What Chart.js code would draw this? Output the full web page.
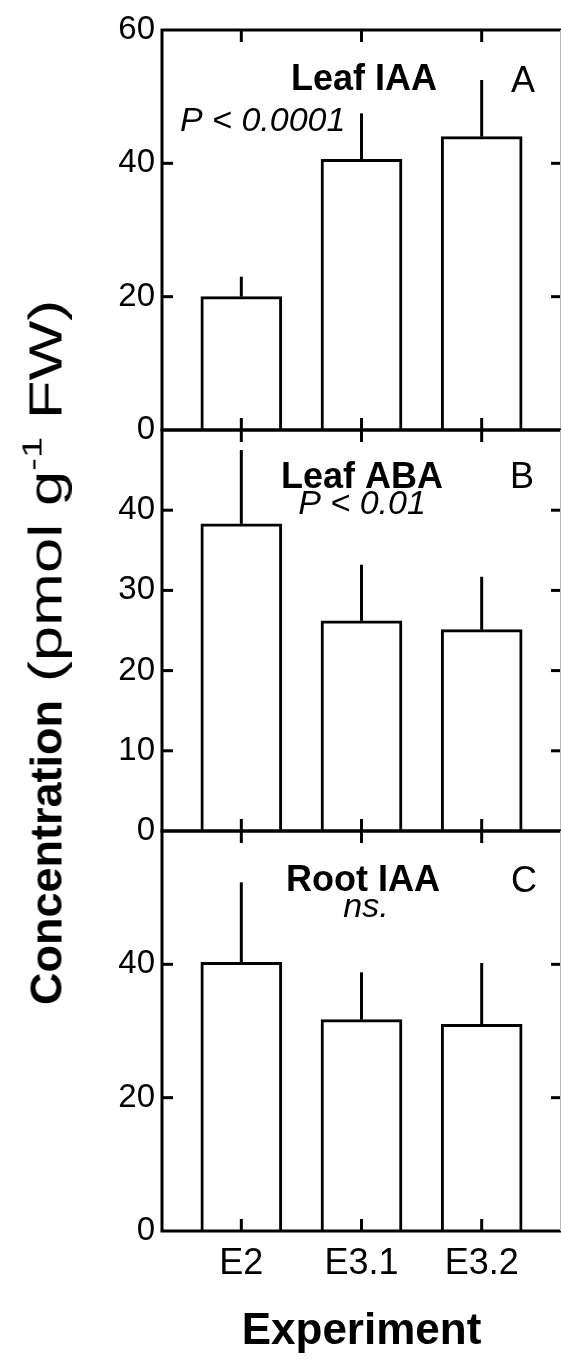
<!DOCTYPE html>
<html><head><meta charset="utf-8">
<script src="https://cdn.jsdelivr.net/npm/chart.js@4.4.1/dist/chart.umd.min.js"></script>
<style>
html,body{margin:0;padding:0;background:#fff;}
#wrap{position:relative;width:561px;height:1363px;overflow:hidden;background:#fff;}
canvas{position:absolute;left:0;}
#ytitle{position:absolute;left:45px;top:1005px;transform-origin:0 50%;transform:translateY(-50%) rotate(-90deg);white-space:nowrap;font-family:'Liberation Sans',Arial,sans-serif;font-size:45px;color:#000;line-height:1;}
#ytitle .reg{display:inline-block;font-size:47px;transform:scaleX(1.35);transform-origin:0 50%;}
#ytitle sup{font-size:60%;vertical-align:0.7em;line-height:0;}
</style></head><body>
<div id="wrap">
<canvas id="cA" width="561" height="460" style="top:0px"></canvas>
<canvas id="cB" width="561" height="460" style="top:400px"></canvas>
<canvas id="cC" width="561" height="562" style="top:801px"></canvas>
<div id="ytitle"><b>Concentration</b><span class="reg">&nbsp;(pmol g<sup>-1</sup> FW)</span></div>
</div>
<script>
// ---- data ----
const categories = ['E2', 'E3.1', 'E3.2'];
const leafIAA    = [20.0, 40.6, 44.0];
const leafIAAErr = [3.0, 6.9, 8.5];
const leafABA    = [38.3, 26.2, 25.1];
const leafABAErr = [9.2, 7.0, 6.6];
const rootIAA    = [40.3, 31.7, 31.0];
const rootIAAErr = [12.0, 7.1, 9.2];
const yTicksA = [0, 20, 40, 60];
const yTicksB = [0, 10, 20, 30, 40];
const yTicksC = [0, 20, 40];
const yMaxA = 60, yMaxB = 50, yMaxC = 60;

const FONT = "'Liberation Sans', Arial, Helvetica, sans-serif";

const panelDecor = {
  id: 'panelDecor',
  afterDatasetsDraw(chart, args, opts) {
    const ctx = chart.ctx;
    const {left, right, top, bottom} = chart.chartArea;
    const xs = chart.scales.x, ys = chart.scales.y;
    const ds = chart.data.datasets[0];
    const meta = chart.getDatasetMeta(0);
    ctx.save();
    ctx.strokeStyle = '#000';
    ctx.lineWidth = 3;
    ctx.lineCap = 'butt';
    // error bars (upper only)
    meta.data.forEach((bar, i) => {
      const y1 = ys.getPixelForValue(ds.data[i].y + ds.errors[i]);
      ctx.beginPath(); ctx.moveTo(bar.x, bar.y); ctx.lineTo(bar.x, y1); ctx.stroke();
    });
    // frame
    ctx.lineCap = 'square';
    ctx.beginPath();
    ctx.moveTo(right + 3, top); ctx.lineTo(left, top); ctx.lineTo(left, bottom); ctx.lineTo(right + 3, bottom);
    ctx.stroke();
    ctx.lineCap = 'butt';
    // category ticks (inward, top and bottom)
    xs.ticks.forEach(t => {
      const x = xs.getPixelForValue(t.value);
      ctx.beginPath(); ctx.moveTo(x, top); ctx.lineTo(x, top + 12); ctx.stroke();
      ctx.beginPath(); ctx.moveTo(x, bottom); ctx.lineTo(x, bottom - 12); ctx.stroke();
    });
    // value ticks (inward, left and right)
    ys.ticks.forEach(t => {
      if (t.value <= ys.min || t.value >= ys.max) return;
      const y = ys.getPixelForValue(t.value);
      ctx.beginPath(); ctx.moveTo(left, y); ctx.lineTo(left + 11, y); ctx.stroke();
      ctx.beginPath(); ctx.moveTo(right, y); ctx.lineTo(right - 10, y); ctx.stroke();
    });
    // faint right edge
    ctx.strokeStyle = '#b8b8b8'; ctx.lineWidth = 1;
    ctx.beginPath(); ctx.moveTo(right - 0.5, top); ctx.lineTo(right - 0.5, bottom); ctx.stroke();
    // panel texts
    ctx.fillStyle = '#000';
    ctx.textBaseline = 'middle';
    (opts.items || []).forEach(it => {
      ctx.font = it.font;
      ctx.textAlign = it.align || 'center';
      ctx.fillText(it.text, left + it.dx, top + it.dy);
    });
    ctx.restore();
  }
};

function makePanel(id, values, errs, yTicks, yMax, items, showX, padBottom) {
  const xScale = {
    type: 'linear', min: -0.66, max: 2.66,
    offset: false,
    display: showX,
    grid: {display: false, drawTicks: false, offset: false},
    border: {display: false},
    afterBuildTicks: s => { s.ticks = categories.map((c, i) => ({value: i})); },
    ticks: {
      color: '#000', font: {family: FONT, size: 36}, padding: 11,
      maxRotation: 0, autoSkip: false,
      callback: v => categories[v]
    }
  };
  if (showX) {
    xScale.title = {display: true, text: 'Experiment', color: '#000',
      font: {family: FONT, size: 44, weight: 'bold'}, padding: {top: 0, bottom: 5}};
    xScale.afterFit = s => { s.height = 132; };
  }
  return new Chart(document.getElementById(id), {
    type: 'bar',
    data: {
      datasets: [{
        data: values.map((v, i) => ({x: i, y: v})),
        errors: errs,
        backgroundColor: '#fff',
        borderColor: '#000',
        borderWidth: 3,
        barThickness: 81
      }]
    },
    options: {
      responsive: false,
      animation: false,
      events: [],
      layout: {padding: {top: 30, bottom: padBottom, left: 0, right: 0}},
      plugins: {legend: {display: false}, tooltip: {enabled: false}, panelDecor: {items}},
      scales: {
        x: xScale,
        y: {
          min: 0, max: yMax,
          grid: {display: false, drawTicks: false},
          border: {display: false},
          afterBuildTicks: s => { s.ticks = yTicks.map(v => ({value: v})); },
          afterFit: s => { s.width = 162; },
          ticks: {color: '#000', font: {family: FONT, size: 33}, padding: 7,
                  callback: v => String(v)}
        }
      }
    },
    plugins: [panelDecor]
  });
}

const bold = `bold 36px ${FONT}`;
const reg = `36px ${FONT}`;
const ital = `italic 34px ${FONT}`;

makePanel('cA', leafIAA, leafIAAErr, yTicksA, yMaxA, [
  {text: 'Leaf IAA', font: bold, dx: 202, dy: 50},
  {text: 'A', font: reg, dx: 361, dy: 52},
  {text: 'P < 0.0001', font: ital, dx: 18, dy: 92, align: 'left'}
], false, 30);

makePanel('cB', leafABA, leafABAErr, yTicksB, yMaxB, [
  {text: 'Leaf ABA', font: bold, dx: 200, dy: 48},
  {text: 'B', font: reg, dx: 360, dy: 48},
  {text: 'P < 0.01', font: ital, dx: 200, dy: 75}
], false, 29);

makePanel('cC', rootIAA, rootIAAErr, yTicksC, yMaxC, [
  {text: 'Root IAA', font: bold, dx: 201, dy: 50},
  {text: 'C', font: reg, dx: 362, dy: 51},
  {text: 'ns.', font: ital, dx: 204, dy: 77}
], true, 0);
</script>
</body></html>
